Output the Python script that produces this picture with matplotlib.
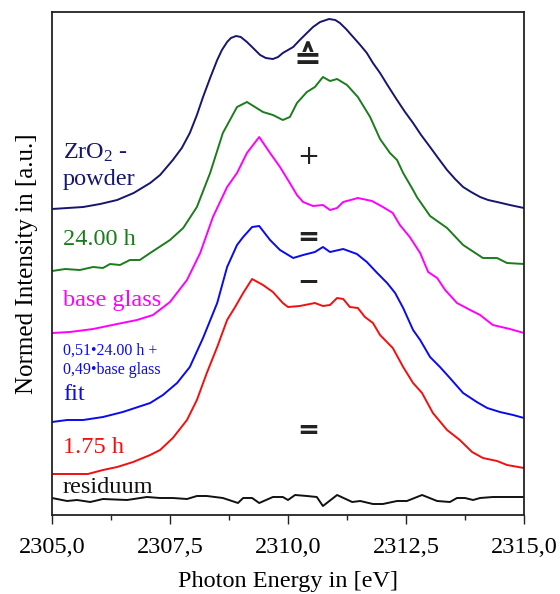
import matplotlib
matplotlib.use("Agg")
import matplotlib.pyplot as plt
from matplotlib.ticker import MultipleLocator, FuncFormatter

plt.rcParams['font.family'] = ['Liberation Serif', 'DejaVu Serif']
plt.rcParams['mathtext.fontset'] = 'custom'
plt.rcParams['mathtext.rm'] = 'Liberation Serif'
plt.rcParams['mathtext.it'] = 'Liberation Serif:italic'

# ---------------- data (photon energy in eV, normed intensity in a.u., offset) ----------------
e_zro2 = [2305.00, 2305.33, 2305.66, 2306.02, 2306.38, 2306.73, 2307.08, 2307.29, 2307.56, 2307.75,
          2307.92, 2308.07, 2308.20, 2308.35, 2308.50, 2308.60, 2308.71, 2308.79, 2308.90, 2309.00,
          2309.13, 2309.26, 2309.41, 2309.53, 2309.68, 2309.79, 2309.89, 2310.00, 2310.11, 2310.25,
          2310.40, 2310.53, 2310.68, 2310.87, 2311.00, 2311.10, 2311.23, 2311.38, 2311.53, 2311.67,
          2311.80, 2311.95, 2312.12, 2312.31, 2312.48, 2312.65, 2312.82, 2313.01, 2313.18, 2313.37,
          2313.54, 2313.71, 2313.88, 2314.07, 2314.24, 2314.43, 2314.70, 2315.00]
i_zro2 = [3.06, 3.07, 3.08, 3.11, 3.15, 3.22, 3.32, 3.40, 3.55, 3.67,
          3.82, 4.00, 4.18, 4.37, 4.55, 4.65, 4.73, 4.77, 4.79, 4.78,
          4.73, 4.67, 4.60, 4.57, 4.56, 4.58, 4.62, 4.65, 4.68, 4.75,
          4.82, 4.88, 4.93, 4.96, 4.95, 4.92, 4.86, 4.78, 4.70, 4.62,
          4.52, 4.42, 4.29, 4.15, 4.03, 3.92, 3.80, 3.68, 3.57, 3.45,
          3.36, 3.28, 3.23, 3.18, 3.15, 3.13, 3.10, 3.07]

e_24h = [2305.00, 2305.28, 2305.59, 2305.87, 2306.08, 2306.23, 2306.44, 2306.65, 2306.86, 2307.08,
         2307.50, 2307.78, 2308.07, 2308.35, 2308.62, 2308.92, 2309.13, 2309.30, 2309.47, 2309.68,
         2309.89, 2310.04, 2310.19, 2310.40, 2310.57, 2310.74, 2310.89, 2311.04, 2311.25, 2311.48,
         2311.74, 2311.95, 2312.16, 2312.31, 2312.44, 2312.65, 2312.73, 2313.01, 2313.37, 2313.71,
         2314.13, 2314.43, 2314.64, 2315.00]
i_24h = [2.44, 2.46, 2.45, 2.48, 2.47, 2.51, 2.50, 2.55, 2.55, 2.62,
         2.75, 2.87, 3.08, 3.42, 3.82, 4.08, 4.13, 4.08, 4.03, 4.00,
         3.95, 3.98, 4.12, 4.23, 4.28, 4.38, 4.34, 4.36, 4.30, 4.18,
         3.98, 3.76, 3.62, 3.55, 3.42, 3.25, 3.18, 2.99, 2.87, 2.70,
         2.57, 2.57, 2.52, 2.51]

e_base = [2305.00, 2305.38, 2305.87, 2306.38, 2306.80, 2307.14, 2307.50, 2307.86, 2308.14, 2308.41,
          2308.71, 2308.92, 2309.13, 2309.39, 2309.62, 2309.83, 2310.00, 2310.19, 2310.32, 2310.53,
          2310.74, 2310.89, 2311.04, 2311.17, 2311.48, 2311.78, 2312.01, 2312.22, 2312.37, 2312.58,
          2312.80, 2312.97, 2313.16, 2313.33, 2313.58, 2313.86, 2314.07, 2314.34, 2314.70, 2315.00]
i_base = [1.82, 1.83, 1.86, 1.91, 1.95, 2.00, 2.13, 2.35, 2.62, 2.98,
          3.28, 3.42, 3.62, 3.78, 3.62, 3.48, 3.35, 3.20, 3.13, 3.09,
          3.10, 3.05, 3.07, 3.13, 3.17, 3.14, 3.08, 3.02, 2.90, 2.78,
          2.62, 2.43, 2.37, 2.25, 2.12, 2.05, 2.00, 1.90, 1.86, 1.82]

e_fit = [2305.00, 2305.32, 2305.66, 2306.08, 2306.50, 2307.08, 2307.35, 2307.65, 2307.92, 2308.20,
         2308.50, 2308.71, 2308.92, 2309.05, 2309.24, 2309.39, 2309.62, 2309.83, 2310.11, 2310.32,
         2310.57, 2310.74, 2310.89, 2311.17, 2311.46, 2311.67, 2311.89, 2312.10, 2312.27, 2312.44,
         2312.65, 2312.80, 2313.01, 2313.22, 2313.43, 2313.71, 2314.00, 2314.22, 2314.49, 2314.77,
         2315.00]
i_fit = [0.93, 0.95, 0.95, 0.98, 1.03, 1.12, 1.20, 1.32, 1.48, 1.77,
         2.12, 2.48, 2.70, 2.78, 2.88, 2.89, 2.75, 2.65, 2.57, 2.60,
         2.63, 2.68, 2.63, 2.66, 2.61, 2.53, 2.42, 2.32, 2.22, 2.07,
         1.85, 1.75, 1.58, 1.48, 1.37, 1.22, 1.13, 1.07, 1.03, 1.00,
         0.97]

e_175h = [2305.00, 2305.38, 2305.76, 2306.08, 2306.38, 2306.72, 2307.08, 2307.29, 2307.56, 2307.86,
          2308.07, 2308.28, 2308.50, 2308.71, 2308.88, 2309.05, 2309.24, 2309.47, 2309.68, 2309.89,
          2310.00, 2310.25, 2310.57, 2310.74, 2310.89, 2311.04, 2311.17, 2311.31, 2311.48, 2311.63,
          2311.80, 2311.95, 2312.22, 2312.44, 2312.65, 2312.84, 2313.07, 2313.37, 2313.64, 2313.90,
          2314.13, 2314.43, 2314.64, 2315.00]
i_175h = [0.41, 0.41, 0.41, 0.45, 0.48, 0.53, 0.60, 0.65, 0.77, 0.95,
          1.15, 1.42, 1.68, 1.95, 2.08, 2.22, 2.36, 2.30, 2.23, 2.12,
          2.08, 2.09, 2.12, 2.09, 2.10, 2.17, 2.16, 2.08, 2.07, 1.98,
          1.92, 1.80, 1.67, 1.48, 1.32, 1.22, 1.02, 0.85, 0.75, 0.63,
          0.57, 0.54, 0.50, 0.47]

e_res = [2305.00, 2305.32, 2305.53, 2305.81, 2306.08, 2306.59, 2307.01, 2307.29, 2307.56, 2307.86,
         2308.07, 2308.28, 2308.62, 2308.94, 2309.05, 2309.24, 2309.39, 2309.68, 2309.89, 2310.00,
         2310.15, 2310.40, 2310.61, 2310.74, 2311.04, 2311.36, 2311.53, 2311.80, 2312.01, 2312.31,
         2312.52, 2312.84, 2313.16, 2313.43, 2313.58, 2313.75, 2313.92, 2314.07, 2314.34, 2314.64,
         2315.00]
i_res = [0.17, 0.14, 0.15, 0.13, 0.16, 0.15, 0.18, 0.17, 0.17, 0.16,
         0.19, 0.19, 0.17, 0.12, 0.17, 0.17, 0.12, 0.18, 0.18, 0.15,
         0.20, 0.19, 0.18, 0.09, 0.20, 0.13, 0.14, 0.11, 0.11, 0.14,
         0.14, 0.20, 0.14, 0.13, 0.17, 0.17, 0.15, 0.17, 0.18, 0.18,
         0.18]

x_ticks = [2305.0, 2307.5, 2310.0, 2312.5, 2315.0]

# ---------------- figure ----------------
fig = plt.figure(figsize=(5.6, 5.94), dpi=100)
ax = fig.add_axes([52/560, 1-515/594, 472/560, 503/594])

lw = 1.4
kw = dict(lw=lw, solid_joinstyle='round', solid_capstyle='round')
ax.plot(e_zro2, i_zro2, color='#16166e', **kw)
ax.plot(e_24h, i_24h, color='#1c7c1c', **kw)
ax.plot(e_base, i_base, color='#ff00ff', **kw)
ax.plot(e_fit, i_fit, color='#0a0aee', **kw)
ax.plot(e_175h, i_175h, color='#f01010', **kw)
ax.plot(e_res, i_res, color='#111111', **kw)

ax.set_xlim(2305, 2315)
ax.set_ylim(0, 5.03)
ax.set_xticks(x_ticks)
ax.xaxis.set_minor_locator(MultipleLocator(1.25))
ax.xaxis.set_major_formatter(FuncFormatter(lambda v, p: f"{v:.1f}".replace('.', ',')))
ax.set_yticks([])
ax.tick_params(axis='x', which='major', direction='out', length=6.5, width=1.0,
               labelsize=17.5, pad=9, color='#222222')
ax.tick_params(axis='x', which='minor', direction='out', length=3.6, width=1.0, color='#222222')
for s in ax.spines.values():
    s.set_linewidth(1.3)
    s.set_color('#222222')

ax.set_xlabel('Photon Energy in [eV]', fontsize=17.5, labelpad=10)
ax.set_ylabel('Normed Intensity in [a.u.]', fontsize=18, labelpad=10)

# curve labels
tx = 2305.23
fs = 17.5
ax.text(tx, 3.56, r'ZrO$_\mathrm{2}$ -', color='#16166e', fontsize=fs)
ax.text(tx, 3.30, 'powder', color='#16166e', fontsize=fs)
ax.text(tx, 2.70, '24.00 h', color='#1c7c1c', fontsize=fs)
ax.text(tx, 2.09, 'base glass', color='#ff00ff', fontsize=fs)
ax.text(tx, 1.60, '0,51\u202224.00 h +', color='#0a0aee', fontsize=11.5)
ax.text(tx, 1.41, '0,49\u2022base glass', color='#0a0aee', fontsize=11.5)
ax.text(tx, 1.15, 'fit', color='#0a0aee', fontsize=fs)
ax.text(tx, 0.62, '1.75 h', color='#f01010', fontsize=fs)
ax.text(tx, 0.22, 'residuum', color='#111111', fontsize=fs)

# operator symbols
sx = 2310.42
sym = dict(ha='center', va='center', color='#222222', family=['DejaVu Sans', 'Noto Sans'])
ax.text(sx, 4.55, '\u2259', fontsize=24, fontweight='bold', **sym)
ax.text(sx, 3.58, '+', fontsize=19, **sym)
ax.text(sx, 2.77, '=', fontsize=19, fontweight='bold', **sym)
ax.text(sx, 2.32, '\u2212', fontsize=19, fontweight='bold', **sym)
ax.text(sx, 0.84, '=', fontsize=19, fontweight='bold', **sym)

fig.savefig('out.png', dpi=100)
